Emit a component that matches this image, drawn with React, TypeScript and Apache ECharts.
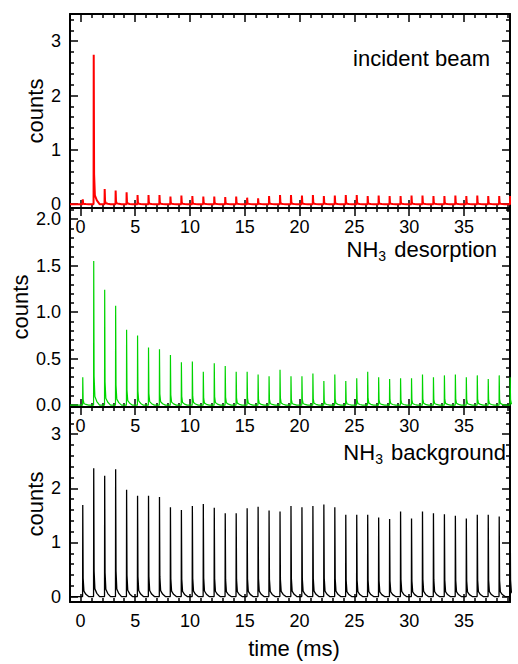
import React, { useEffect, useRef } from "react";
import * as echarts from "echarts";

// ---- data ----
const pulseTimes = [
  0.2, 1.2, 2.2, 3.2, 4.2, 5.2, 6.2, 7.2, 8.2, 9.2,
  10.2, 11.2, 12.2, 13.2, 14.2, 15.2, 16.2, 17.2, 18.2, 19.2,
  20.2, 21.2, 22.2, 23.2, 24.2, 25.2, 26.2, 27.2, 28.2, 29.2,
  30.2, 31.2, 32.2, 33.2, 34.2, 35.2, 36.2, 37.2, 38.2, 39.2,
];
const incidentPeaks = [
  0.09, 2.75, 0.28, 0.25, 0.22, 0.17, 0.17, 0.17, 0.14, 0.16,
  0.15, 0.14, 0.14, 0.13, 0.14, 0.12, 0.11, 0.15, 0.17, 0.17,
  0.16, 0.17, 0.15, 0.16, 0.17, 0.17, 0.15, 0.16, 0.15, 0.15,
  0.16, 0.16, 0.15, 0.15, 0.16, 0.15, 0.16, 0.15, 0.15, 0.15,
];
const desorptionPeaks = [
  0.30, 1.55, 1.24, 1.07, 0.81, 0.75, 0.62, 0.60, 0.54, 0.46,
  0.47, 0.36, 0.45, 0.42, 0.36, 0.36, 0.33, 0.31, 0.38, 0.31,
  0.31, 0.34, 0.26, 0.33, 0.26, 0.29, 0.36, 0.30, 0.28, 0.29,
  0.29, 0.33, 0.30, 0.32, 0.33, 0.30, 0.32, 0.28, 0.32, 0.30,
];
const backgroundPeaks = [
  1.69, 2.37, 2.23, 2.35, 1.97, 1.86, 1.86, 1.84, 1.65, 1.60,
  1.67, 1.71, 1.64, 1.54, 1.54, 1.63, 1.66, 1.59, 1.57, 1.67,
  1.65, 1.67, 1.70, 1.65, 1.51, 1.51, 1.51, 1.46, 1.43, 1.57,
  1.44, 1.57, 1.54, 1.52, 1.49, 1.44, 1.51, 1.51, 1.48, 1.52,
];
// pulse profile (time offset in ms, fraction of peak)
const shapeOffsets = [0, 0.015, 0.05, 0.12, 0.3, 0.55];
const shapeFractions = [0, 1, 0.2, 0.06, 0.025, 0];

const xMajor = [0, 5, 10, 15, 20, 25, 30, 35];
const yMajorCounts = [0, 1, 2, 3];
const yMajorDesorption = [0, 0.5, 1.0, 1.5, 2.0];

const titles = ["incident beam", "NH3 desorption", "NH3 background"];
const yName = "counts";
const xName = "time (ms)";

// ---- layout ----
const XMIN = -0.95;
const XMAX = 39.2;
const LEFT = 70;
const WIDTH = 440;
const FONT = 'Arial, "Liberation Sans", Helvetica, sans-serif';
const TICK_FONT = 18;

const steps = (from: number, to: number, step: number) => {
  const out: number[] = [];
  const n = Math.round((to - from) / step);
  for (let i = 0; i <= n; i++) out.push(+(from + i * step).toFixed(4));
  return out;
};
const minorTicks = (from: number, to: number, step: number, major: number[]) =>
  steps(from, to, step).filter((v) => !major.some((m) => Math.abs(m - v) < 1e-6));

const xMinor = minorTicks(0, 39, 1, xMajor);

function buildPulses(peaks: number[]) {
  const pts: number[][] = [[XMIN, 0]];
  pulseTimes.forEach((t, i) => {
    shapeOffsets.forEach((o, k) => {
      pts.push([+(t + o).toFixed(4), peaks[i] * shapeFractions[k]]);
    });
  });
  return pts;
}

const lineStyleAxis = { color: "#000", width: 2 };
const tickStyle = { color: "#000", width: 1.5 };

function xAxesFor(g: number, showLabels: boolean) {
  const common = {
    type: "value",
    gridIndex: g,
    min: XMIN,
    max: XMAX,
    splitLine: { show: false },
  };
  return [
    {
      ...common,
      position: "bottom",
      axisLine: { show: true, onZero: false, lineStyle: lineStyleAxis },
      axisTick: { show: true, inside: true, length: 8, customValues: xMajor, lineStyle: tickStyle },
      axisLabel: {
        show: showLabels,
        customValues: xMajor,
        margin: 10,
        fontSize: TICK_FONT,
        color: "#000",
        fontFamily: FONT,
      },
    },
    {
      ...common,
      position: "bottom",
      axisLine: { show: false, onZero: false },
      axisTick: { show: true, inside: true, length: 4, customValues: xMinor, lineStyle: tickStyle },
      axisLabel: { show: false },
    },
    {
      ...common,
      position: "top",
      axisLine: { show: true, onZero: false, lineStyle: lineStyleAxis },
      axisTick: { show: true, inside: true, length: 8, customValues: xMajor, lineStyle: tickStyle },
      axisLabel: { show: false },
    },
    {
      ...common,
      position: "top",
      axisLine: { show: false, onZero: false },
      axisTick: { show: true, inside: true, length: 4, customValues: xMinor, lineStyle: tickStyle },
      axisLabel: { show: false },
    },
  ];
}

function yAxesFor(
  g: number,
  min: number,
  max: number,
  major: number[],
  minor: number[],
  decimals: number
) {
  const common = {
    type: "value",
    gridIndex: g,
    min,
    max,
    splitLine: { show: false },
  };
  return [
    {
      ...common,
      position: "left",
      axisLine: { show: true, onZero: false, lineStyle: lineStyleAxis },
      axisTick: { show: true, inside: true, length: 8, customValues: major, lineStyle: tickStyle },
      axisLabel: {
        show: true,
        customValues: major,
        margin: 9,
        fontSize: TICK_FONT,
        color: "#000",
        fontFamily: FONT,
        formatter: (v: number) => v.toFixed(decimals),
      },
    },
    {
      ...common,
      position: "left",
      axisLine: { show: false, onZero: false },
      axisTick: { show: true, inside: true, length: 4, customValues: minor, lineStyle: tickStyle },
      axisLabel: { show: false },
    },
    {
      ...common,
      position: "right",
      axisLine: { show: true, onZero: false, lineStyle: lineStyleAxis },
      axisTick: { show: true, inside: true, length: 8, customValues: major, lineStyle: tickStyle },
      axisLabel: { show: false },
    },
    {
      ...common,
      position: "right",
      axisLine: { show: false, onZero: false },
      axisTick: { show: true, inside: true, length: 4, customValues: minor, lineStyle: tickStyle },
      axisLabel: { show: false },
    },
  ];
}

function subTitle(text: string, right: number, y: number) {
  const head = text.slice(0, 2);
  const tail = text.slice(3);
  return {
    type: "text",
    x: right,
    y,
    style: {
      text: `{a|${head}}{b|3}{a|${tail}}`,
      font: `14px ${FONT}`,
      textAlign: "right",
      textVerticalAlign: "middle",
      align: "right",
      verticalAlign: "middle",
      fill: "#000",
      rich: {
        a: { fontSize: 22, fontFamily: FONT, lineHeight: 28, fill: "#000", color: "#000" },
        b: {
          fontSize: 14,
          fontFamily: FONT,
          lineHeight: 14,
          verticalAlign: "bottom",
          padding: [0, 2, 0, 0],
          fill: "#000",
          color: "#000",
        },
      },
    },
  };
}

export default function App() {
  const ref = useRef<HTMLDivElement>(null);
  useEffect(() => {
    if (!ref.current) return;
    const chart = echarts.init(ref.current, undefined, { renderer: "svg" });
    const option = {
      animation: false,
      backgroundColor: "#fff",
      grid: [
        { left: LEFT, top: 14, width: WIDTH, height: 194, outerBoundsMode: "none" },
        { left: LEFT, top: 208, width: WIDTH, height: 199, outerBoundsMode: "none" },
        { left: LEFT, top: 407, width: WIDTH, height: 195, outerBoundsMode: "none" },
      ],
      xAxis: [...xAxesFor(0, true), ...xAxesFor(1, true), ...xAxesFor(2, true)],
      yAxis: [
        ...yAxesFor(0, -0.07, 3.5, yMajorCounts, minorTicks(0, 3.4, 0.2, yMajorCounts), 0),
        ...yAxesFor(1, -0.02, 2.12, yMajorDesorption, minorTicks(0, 2.1, 0.1, yMajorDesorption), 1),
        ...yAxesFor(2, -0.1, 3.5, yMajorCounts, minorTicks(0, 3.4, 0.2, yMajorCounts), 0),
      ],
      series: [
        {
          type: "line",
          xAxisIndex: 0,
          yAxisIndex: 0,
          data: buildPulses(incidentPeaks),
          showSymbol: false,
          symbol: "none",
          clip: true,
          lineStyle: { color: "#ff0000", width: 2 },
          itemStyle: { color: "#ff0000" },
        },
        {
          type: "line",
          xAxisIndex: 4,
          yAxisIndex: 4,
          data: buildPulses(desorptionPeaks),
          showSymbol: false,
          symbol: "none",
          clip: true,
          lineStyle: { color: "#00d400", width: 1.2 },
          itemStyle: { color: "#00d400" },
        },
        {
          type: "line",
          xAxisIndex: 8,
          yAxisIndex: 8,
          data: buildPulses(backgroundPeaks),
          showSymbol: false,
          symbol: "none",
          clip: true,
          lineStyle: { color: "#000000", width: 1.3 },
          itemStyle: { color: "#000000" },
        },
      ],
      graphic: [
        {
          type: "text",
          x: 490,
          y: 58,
          style: {
            text: titles[0],
            font: `22px ${FONT}`,
            fill: "#000",
            textAlign: "right",
            textVerticalAlign: "middle",
            align: "right",
            verticalAlign: "middle",
          },
        },
        subTitle(titles[1], 497, 249),
        subTitle(titles[2], 506, 452),
        ...[
          [35, 111],
          [20, 307],
          [35, 504],
        ].map(([x, y]) => ({
          type: "text",
          x,
          y,
          rotation: Math.PI / 2,
          style: {
            text: yName,
            font: `22px ${FONT}`,
            fill: "#000",
            textAlign: "center",
            textVerticalAlign: "middle",
            align: "center",
            verticalAlign: "middle",
          },
        })),
        {
          type: "text",
          x: 294,
          y: 648,
          style: {
            text: xName,
            font: `22px ${FONT}`,
            fill: "#000",
            textAlign: "center",
            textVerticalAlign: "middle",
            align: "center",
            verticalAlign: "middle",
          },
        },
      ],
    };
    chart.setOption(option as any);
    return () => chart.dispose();
  }, []);
  return (
    <div
      ref={ref}
      style={{ position: "absolute", left: 0, top: 0, width: 518, height: 664 }}
    />
  );
}
